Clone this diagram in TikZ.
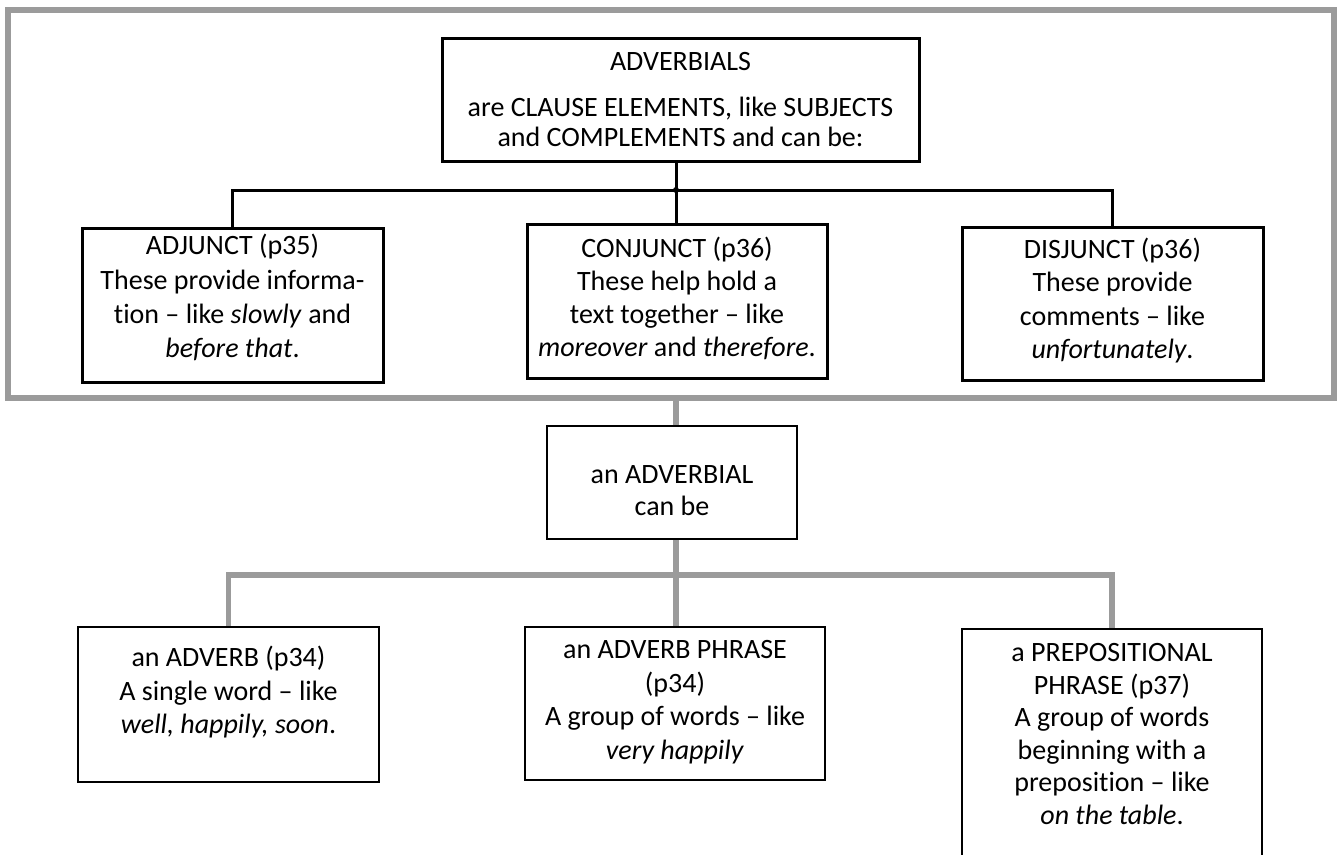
\documentclass[tikz,border=0pt]{standalone}
\usepackage{fontspec}
\setmainfont[Ligatures=NoCommon]{Carlito}
\definecolor{framegrey}{RGB}{155,155,155}
\tikzset{
  blk/.style={draw=black, line width=3pt, inner sep=0pt},
  blkthin/.style={draw=black, line width=2.2pt, inner sep=0pt},
  link/.style={draw=black, line width=3pt},
  glink/.style={draw=framegrey, line width=5.5pt},
}
\newcommand{\boxtext}[5]{\parbox[c][#2pt][t]{#1pt}{\centering\fontsize{28}{#4}\selectfont\vspace*{#3pt}#5}}
\begin{document}
\begin{tikzpicture}[x=1pt,y=-1pt]
\clip (0,0) rectangle (1341,854);
\fill[white] (0,0) rectangle (1341,854);
% frame
\node[draw=framegrey, line width=6pt, minimum width=1326pt, minimum height=388pt, inner sep=0pt] (frame) at (671,204) {};
% top box
\node[blk] (top) at (680.5,99.5) {\parbox[c][123pt][t]{477pt}{\centering\fontsize{28}{30}\selectfont\vspace*{14pt}ADVERBIALS\\[16pt]are CLAUSE ELEMENTS, like SUBJECTS\\and COMPLEMENTS and can be:}};
\node[blk] (adj) at (232.5,305) {\boxtext{301}{154}{6.5}{34.3}{ADJUNCT (p35)\\These provide informa-\\tion -- like \textit{slowly} and\\\textit{before that}.}};
\node[blk] (conj) at (677,301) {\boxtext{300}{154}{13.5}{33}{CONJUNCT (p36)\\These help hold a\\text together -- like\\\textit{moreover} and \textit{therefore}.}};
\node[blk] (dis) at (1112.5,303.5) {\boxtext{301}{153}{11}{33.5}{DISJUNCT (p36)\\These provide\\comments -- like\\\textit{unfortunately}.}};
\coordinate (j1) at (676,190);
\draw[link] (j1 |- top.south) -- (j1 |- conj.north);
\draw[link] (adj.north) |- (j1) -| (dis.north);
\fill (j1) circle (3pt);
% lower part
\node[blkthin] (adv) at (672,482.5) {\parbox[c][113pt][c]{250pt}{\centering\fontsize{28}{32}\selectfont\vspace*{16pt}an ADVERBIAL\\can be}};
\coordinate (j2) at (676,575);
\draw[glink] (j2 |- frame.south) -- (j2 |- adv.north);
\node[blkthin] (adverb) at (228.5,704.5) {\boxtext{301}{155}{19.5}{33.5}{an ADVERB (p34)\\A single word -- like\\\textit{well, happily, soon}.}};
\node[blkthin] (advp) at (675,703.5) {\boxtext{300}{153}{13.5}{33.5}{an ADVERB PHRASE\\(p34)\\A group of words -- like\\\textit{very happily}}};
\node[blkthin] (prep) at (1112,749.5) {\boxtext{300}{241}{14.5}{32.5}{a PREPOSITIONAL\\PHRASE (p37)\\A group of words\\beginning with a\\preposition -- like\\\textit{on the table}.}};
\draw[glink] (j2 |- adv.south) -- (j2 |- advp.north);
\draw[glink] (adverb.north) |- (j2) -| (prep.north);
\end{tikzpicture}
\end{document}
